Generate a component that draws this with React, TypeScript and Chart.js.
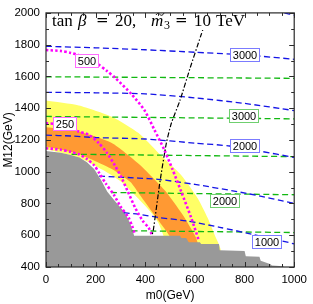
import React, { useEffect, useRef } from "react";
import { Chart, registerables } from "chart.js";
Chart.register(...registerables);

// ---- axes ----
const xMin = 0, xMax = 1000, xStep = 200;
const yMin = 400, yMax = 2000, yStep = 200;

// ---- excluded region (grey) ----
const greyM0 = [-20, 0, 60, 100, 135, 165, 194, 221, 247, 274, 300, 313, 330, 340, 350, 355, 540, 545, 565, 575, 620, 625, 697, 700, 800, 805, 860, 865, 905, 910, 955, 960, 1020, 1020, -20];
const greyM12 = [1130, 1130, 1120, 1106, 1089, 1060, 1017, 950, 874, 822, 775, 751, 705, 670, 625, 597, 597, 583, 583, 556, 556, 545, 545, 505, 500, 468, 465, 440, 418, 410, 405, 400, 400, 380, 380];

// ---- yellow band ----
const yellowM0 = [-10, 0, 132, 265, 373, 452, 545, 611, 651, 680, 702, 490, 475, 452, 419, 360, 304, 230, 132, 0, -10];
const yellowM12 = [1450, 1448, 1417, 1346, 1243, 1120, 978, 833, 710, 600, 500, 500, 590, 680, 751, 850, 935, 1010, 1090, 1142, 1142];

// ---- orange band ----
const orangeM0 = [-10, 0, 132, 265, 373, 480, 550, 604, 612, 505, 500, 440, 380, 340, 265, 132, 0, -10];
const orangeM12 = [1281, 1280, 1253, 1181, 1050, 880, 730, 585, 520, 520, 590, 720, 850, 935, 1017, 1110, 1158, 1158];

// ---- magenta dotted contours ----
const mag500M0 = [0, 60, 100, 130, 170, 212, 245, 278, 344, 397, 437, 476, 509, 545, 585, 615];
const mag500M12 = [1766, 1760, 1748, 1735, 1710, 1674, 1635, 1592, 1489, 1386, 1263, 1140, 1017, 874, 710, 570];
const mag250M0 = [0, 40, 80, 132, 172, 212, 245, 278, 305, 330, 360, 390, 413, 426];
const mag250M12 = [1305, 1300, 1285, 1253, 1233, 1181, 1120, 1038, 960, 874, 771, 690, 648, 607];
const magInnerM0 = [0, 60, 100, 135, 165, 194, 215, 241, 274, 300, 333, 347, 357];
const magInnerM12 = [1148, 1138, 1125, 1108, 1080, 1040, 990, 925, 853, 782, 710, 658, 612];

// ---- blue dashed contours ----
const blue0M0 = [960, 1000];
const blue0M12 = [2000, 1986];
const blue1M0 = [0, 200, 400, 600, 750, 860, 1000];
const blue1M12 = [1790, 1780, 1768, 1752, 1740, 1728, 1708];
const blue2M0 = [0, 200, 400, 600, 800, 1000];
const blue2M12 = [1500, 1497, 1490, 1465, 1430, 1385];
const blue3M0 = [0, 100, 200, 400, 600, 740, 860, 1000];
const blue3M12 = [1230, 1225, 1215, 1206, 1180, 1162, 1130, 1090];
const blue4M0 = [214, 373, 452, 600, 810, 1000];
const blue4M12 = [972, 960, 952, 920, 863, 800];
const blue5M0 = [313, 373, 452, 571, 700, 829, 1000];
const blue5M12 = [742, 732, 712, 689, 650, 607, 546];

// ---- green dashed contours ----
const green1M0 = [0, 1000];
const green1M12 = [1598, 1588];
const green2M0 = [0, 1000];
const green2M12 = [1348, 1333];
const green3M0 = [103, 1000];
const green3M12 = [1110, 1095];
const green4M0 = [262, 1000];
const green4M12 = [869, 855];
const green5M0 = [345, 1000];
const green5M12 = [628, 617];

// ---- black dash-dot ----
const blackM0 = [655, 624, 580, 540, 505, 485, 459, 432, 426];
const blackM12 = [2000, 1858, 1650, 1450, 1305, 1181, 935, 628, 597];

// ---- contour labels ----
const labelTexts = ["3000", "3000", "2000", "2000", "1000", "500", "250"];
const labelM0 = [798, 796, 800, 720, 889, 163, 75];
const labelM12 = [1735, 1351, 1166, 818, 560, 1698, 1305];
const labelColors = ["#7b7bff", "#6fcf6f", "#7b7bff", "#6fcf6f", "#7b7bff", "#ff6cff", "#ff6cff"];

const BLUE = "#1414e6";
const GREEN = "#12b812";
const MAGENTA = "#ff00ff";

const pts = (xs: number[], ys: number[]) => xs.map((x, i) => ({ x, y: ys[i] }));

const lineDs = (xs: number[], ys: number[], color: string, width: number, dash: number[], tension = 0.25) => ({
  data: pts(xs, ys),
  borderColor: color,
  borderWidth: width,
  borderDash: dash,
  pointRadius: 0,
  fill: false,
  tension,
});

const polyDs = (xs: number[], ys: number[], color: string, tension = 0) => ({
  data: pts(xs, ys),
  borderWidth: 0,
  borderColor: "rgba(0,0,0,0)",
  backgroundColor: color,
  pointRadius: 0,
  fill: "shape",
  tension,
});

const framePlugin = {
  id: "frameTicks",
  afterDatasetsDraw(chart: any) {
    const { ctx, chartArea, scales } = chart;
    const xs = scales.x, ys = scales.y;
    ctx.save();
    // contour labels
    ctx.font = '11px "Liberation Sans", Arial, sans-serif';
    ctx.textAlign = "center";
    ctx.textBaseline = "middle";
    for (let i = 0; i < labelTexts.length; i++) {
      const cx = xs.getPixelForValue(labelM0[i]);
      const cy = ys.getPixelForValue(labelM12[i]);
      const w = Math.round(ctx.measureText(labelTexts[i]).width + 5);
      const h = 13;
      const bx = Math.round(cx - w / 2) + 0.5;
      const by = Math.round(cy - h / 2) + 0.5;
      ctx.fillStyle = "#ffffff";
      ctx.fillRect(bx, by, w, h);
      ctx.strokeStyle = labelColors[i];
      ctx.lineWidth = 1;
      ctx.strokeRect(bx, by, w, h);
      ctx.fillStyle = "#000";
      ctx.fillText(labelTexts[i], bx + w / 2, by + h / 2 + 0.5);
    }
    // title
    ctx.fillStyle = "#fff";
    ctx.fillRect(50, 12, 198, 18);
    ctx.fillStyle = "#000";
    ctx.textAlign = "left";
    ctx.textBaseline = "alphabetic";
    const base = 26;
    const up = '17px "Liberation Serif", "Times New Roman", serif';
    const it = 'italic 17px "Liberation Serif", "Times New Roman", serif';
    const eq = '15px "DejaVu Serif", serif';
    const put = (t: string, x: number, f: string, b = base) => { ctx.font = f; ctx.fillText(t, x, b); };
    put("tan", 52, up);
    put("\u03B2", 78, it);
    put("=", 96, eq, base - 1);
    put("20,", 115, up);
    put("m", 151, it);
    // tilde over m
    ctx.strokeStyle = "#000";
    ctx.lineWidth = 1;
    ctx.beginPath();
    const tx = 156, ty = base - 12;
    ctx.moveTo(tx, ty + 1);
    ctx.bezierCurveTo(tx + 1.5, ty - 1.5, tx + 3, ty - 0.5, tx + 4, ty + 0.5);
    ctx.bezierCurveTo(tx + 5, ty + 1.5, tx + 6.5, ty + 2, tx + 8, ty - 1);
    ctx.stroke();
    put("3", 164, '12px "Liberation Serif", serif', base + 3);
    put("=", 175, eq, base - 1);
    put("10", 194, up);
    put("TeV", 216, up);
    // frame
    const { left, right, top, bottom } = chartArea;
    ctx.strokeStyle = "#2a2a2a";
    ctx.lineWidth = 1.2;
    ctx.strokeRect(left, top, right - left, bottom - top);
    ctx.lineWidth = 1;
    ctx.beginPath();
    for (let v = xMin; v <= xMax; v += 50) {
      const px = Math.round(xs.getPixelForValue(v)) + 0.5;
      const len = v % xStep === 0 ? 5 : 3;
      ctx.moveTo(px, bottom); ctx.lineTo(px, bottom - len);
      ctx.moveTo(px, top); ctx.lineTo(px, top + len);
    }
    for (let v = yMin; v <= yMax; v += 100) {
      const py = Math.round(ys.getPixelForValue(v)) + 0.5;
      const len = v % yStep === 0 ? 5 : 3;
      ctx.moveTo(left, py); ctx.lineTo(left + len, py);
      ctx.moveTo(right, py); ctx.lineTo(right - len, py);
    }
    ctx.stroke();
    ctx.restore();
  },
};

export default function App() {
  const ref = useRef<HTMLCanvasElement | null>(null);
  useEffect(() => {
    const canvas = ref.current;
    if (!canvas) return;
    const tickFont = { family: '"Liberation Sans", Arial, sans-serif', size: 11.5 };
    const chart = new Chart(canvas, {
      type: "line",
      data: {
        datasets: [
          lineDs(blackM0, blackM12, "#000", 1.2, [5, 2, 1.5, 2], 0.2),
          lineDs(mag500M0, mag500M12, MAGENTA, 2.6, [2.4, 2.2]),
          lineDs(mag250M0, mag250M12, MAGENTA, 2.6, [2.4, 2.2]),
          lineDs(magInnerM0, magInnerM12, MAGENTA, 2.6, [2.4, 2.2]),
          lineDs(blue0M0, blue0M12, BLUE, 1.3, [6, 3.5]),
          lineDs(blue1M0, blue1M12, BLUE, 1.3, [6, 3.5]),
          lineDs(blue2M0, blue2M12, BLUE, 1.3, [6, 3.5]),
          lineDs(blue3M0, blue3M12, BLUE, 1.3, [6, 3.5]),
          lineDs(blue4M0, blue4M12, BLUE, 1.3, [6, 3.5]),
          lineDs(blue5M0, blue5M12, BLUE, 1.3, [6, 3.5]),
          lineDs(green1M0, green1M12, GREEN, 1.3, [6, 3.5]),
          lineDs(green2M0, green2M12, GREEN, 1.3, [6, 3.5]),
          lineDs(green3M0, green3M12, GREEN, 1.3, [6, 3.5]),
          lineDs(green4M0, green4M12, GREEN, 1.3, [6, 3.5]),
          lineDs(green5M0, green5M12, GREEN, 1.3, [6, 3.5]),
          polyDs(greyM0, greyM12, "#999999"),
          polyDs(orangeM0, orangeM12, "#ff9933", 0.2),
          polyDs(yellowM0, yellowM12, "#ffff66", 0.2),
        ] as any,
      },
      options: {
        responsive: false,
        animation: false,
        layout: { padding: { left: 0, top: 7, right: 15, bottom: 0 } },
        plugins: { legend: { display: false }, tooltip: { enabled: false } },
        scales: {
          x: {
            type: "linear",
            min: xMin,
            max: xMax,
            afterFit: (s: any) => { s.height = 37; },
            grid: { display: false, drawTicks: false },
            border: { display: false },
            ticks: { stepSize: xStep, padding: 6, color: "#000", font: tickFont, maxRotation: 0, autoSkip: false, callback: (v: any) => String(v) },
            title: { display: true, text: "m0(GeV)", color: "#000", font: { family: '"Liberation Sans", Arial, sans-serif', size: 12 }, padding: { top: 0, bottom: 1 } },
          },
          y: {
            type: "linear",
            min: yMin,
            max: yMax,
            afterFit: (s: any) => { s.width = 46; },
            grid: { display: false, drawTicks: false },
            border: { display: false },
            ticks: { stepSize: yStep, padding: 6, color: "#000", font: tickFont, autoSkip: false, callback: (v: any) => String(v) },
            title: { display: true, text: "M12(GeV)", color: "#000", font: { family: '"Liberation Sans", Arial, sans-serif', size: 12 }, padding: { top: 1, bottom: 0 } },
          },
        },
      } as any,
      plugins: [framePlugin],
    });
    return () => chart.destroy();
  }, []);
  return (
    <div style={{ position: "fixed", left: 0, top: 0, width: 313, height: 304, background: "#fff" }}>
      <canvas ref={ref} width={313} height={304} style={{ width: 313, height: 304, display: "block" }} />
    </div>
  );
}
